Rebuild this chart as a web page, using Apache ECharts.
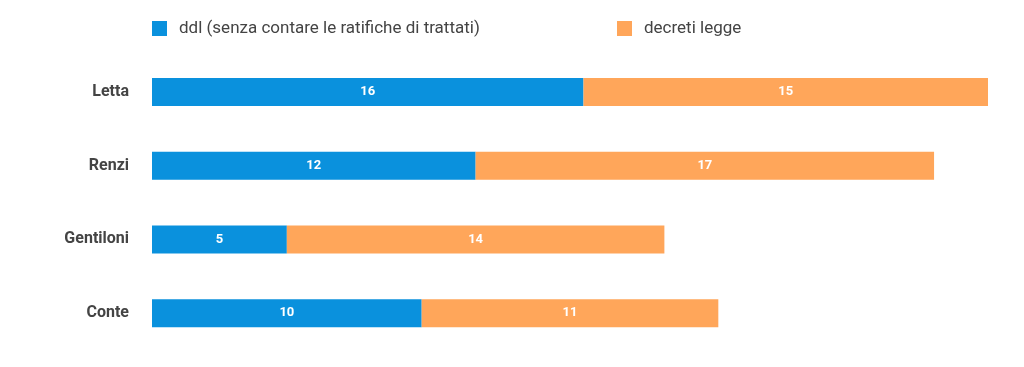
<!DOCTYPE html>
<html><head><meta charset="utf-8">
<script src="https://cdn.jsdelivr.net/npm/echarts@6/dist/echarts.min.js"></script>
<style>html,body{margin:0;padding:0;background:#fff}#c{width:1024px;height:367px}</style>
</head><body><div id="c"></div>
<script>
const categories = ['Letta', 'Renzi', 'Gentiloni', 'Conte'];
const ddl = [16, 12, 5, 10];
const decreti = [15, 17, 14, 11];
const seriesNames = ['ddl (senza contare le ratifiche di trattati)', 'decreti legge'];

const chart = echarts.init(document.getElementById('c'));
const legendText = {color: '#444', fontSize: 17, fontFamily: 'Roboto', padding: [0, 0, 0, 7]};
chart.setOption({
  animation: false,
  grid: {left: 152, right: 36, top: 55, bottom: 17},
  legend: [
    {data: [seriesNames[0]], left: 147, top: 15, itemWidth: 15, itemHeight: 15, icon: 'rect', itemGap: 0, textStyle: legendText},
    {data: [seriesNames[1]], left: 612, top: 15, itemWidth: 15, itemHeight: 15, icon: 'rect', itemGap: 0, textStyle: legendText}
  ],
  xAxis: {type: 'value', min: 0, max: 31, show: false},
  yAxis: {
    type: 'category', data: categories, inverse: true,
    axisLine: {show: false}, axisTick: {show: false},
    axisLabel: {color: '#444', fontSize: 16, fontWeight: 'bold', fontFamily: 'Roboto', margin: 23, padding: [0, 0, 4, 0]}
  },
  series: [
    {name: seriesNames[0], type: 'bar', stack: 't', data: ddl, barWidth: 28,
     itemStyle: {color: '#0a91dd'},
     label: {show: true, position: 'inside', color: '#fff', fontSize: 13, fontFamily: 'Roboto', fontWeight: 'bold'}},
    {name: seriesNames[1], type: 'bar', stack: 't', data: decreti, barWidth: 28,
     itemStyle: {color: '#ffa65a'},
     label: {show: true, position: 'inside', color: '#fff', fontSize: 13, fontFamily: 'Roboto', fontWeight: 'bold'}}
  ]
});
</script></body></html>
